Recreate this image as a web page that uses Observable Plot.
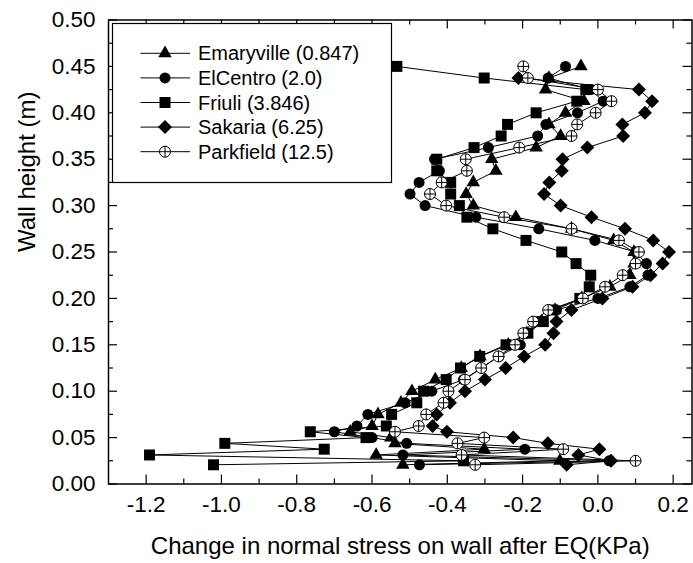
<!DOCTYPE html>
<html><head><meta charset="utf-8">
<script src="https://cdn.jsdelivr.net/npm/d3@7"></script>
<script src="https://cdn.jsdelivr.net/npm/@observablehq/plot@0.6"></script>
<style>body{margin:0;background:#fff} svg{display:block}</style>
</head><body><div id="chart"></div>
<script>
// Wall heights (m) at which stresses are given
const heights = [0.45, 0.4375, 0.425, 0.4125, 0.4, 0.3875, 0.375, 0.3625, 0.35, 0.3375,
  0.325, 0.3125, 0.3, 0.2875, 0.275, 0.2625, 0.25, 0.2375, 0.225, 0.2125,
  0.2, 0.1875, 0.175, 0.1625, 0.15, 0.1375, 0.125, 0.1125, 0.1, 0.0875,
  0.075, 0.0625, 0.0563, 0.05, 0.0438, 0.0375, 0.0313, 0.025, 0.0207];
// Change in normal stress (KPa)
const emaryville = [-0.045, -0.13, -0.139, -0.037, -0.086, -0.130, -0.099, -0.164, -0.282, -0.271,
  -0.331, -0.350, -0.331, -0.218, -0.070, 0.042, 0.096, 0.096, 0.085, 0.032,
  -0.043, -0.114, -0.149, -0.189, -0.238, -0.313, -0.363, -0.432, -0.494, -0.523,
  -0.584, -0.600, -0.658, -0.55, -0.539, -0.302, -0.589, -0.101, -0.518];
const elCentro = [-0.086, -0.132, -0.019, 0.014, -0.054, -0.138, -0.160, -0.291, -0.434, -0.421,
  -0.475, -0.499, -0.459, -0.324, -0.157, -0.008, 0.10, 0.129, 0.133, 0.085,
  0.000, -0.110, -0.160, -0.189, -0.206, -0.263, -0.309, -0.357, -0.441, -0.512,
  -0.611, -0.640, -0.700, -0.60, -0.508, -0.194, -0.518, 0.03, -0.474];
const friuli = [-0.534, -0.302, -0.032, -0.056, -0.164, -0.240, -0.257, -0.329, -0.428, -0.428,
  -0.391, -0.391, -0.368, -0.348, -0.279, -0.191, -0.096, -0.058, -0.019, -0.023,
  -0.048, -0.121, -0.145, -0.186, -0.244, -0.314, -0.365, -0.403, -0.463, -0.481,
  -0.548, -0.562, -0.764, -0.616, -0.991, -0.727, -1.191, -0.357, -1.021];
const sakaria = [null, -0.211, 0.109, 0.144, 0.125, 0.065, 0.067, -0.028, -0.094, -0.096,
  -0.129, -0.143, -0.099, -0.017, 0.072, 0.147, 0.189, 0.172, 0.140, 0.092,
  0.012, -0.070, -0.110, -0.118, -0.140, -0.196, -0.245, -0.300, -0.353, -0.393,
  -0.428, -0.439, -0.401, -0.225, -0.133, 0.004, -0.052, 0.035, -0.083];
const parkfield = [-0.198, -0.186, 0.0, 0.036, -0.006, -0.055, -0.070, -0.209, -0.351, -0.348,
  -0.415, -0.446, -0.403, -0.249, -0.070, 0.056, 0.109, 0.10, 0.066, 0.019,
  -0.04, -0.132, -0.172, -0.198, -0.22, -0.264, -0.31, -0.353, -0.397, -0.410,
  -0.456, -0.476, -0.539, -0.302, -0.373, -0.092, -0.362, 0.100, -0.326];

const seriesNames = ["Emaryville (0.847)", "ElCentro (2.0)", "Friuli (3.846)", "Sakaria (6.25)", "Parkfield (12.5)"];
const xMajorTicks = [-1.2, -1.0, -0.8, -0.6, -0.4, -0.2, 0.0, 0.2];
const xMinorTicks = [-1.1, -0.9, -0.7, -0.5, -0.3, -0.1, 0.1];
const yMajorTicks = [0, 0.05, 0.1, 0.15, 0.2, 0.25, 0.3, 0.35, 0.4, 0.45, 0.5];
const yMinorTicks = [0.025, 0.075, 0.125, 0.175, 0.225, 0.275, 0.325, 0.375, 0.425, 0.475];
const xTitle = "Change in normal stress on wall after EQ(KPa)";
const yTitle = "Wall height (m)";

const W = 693, H = 563;
const mL = 108, mR = 1.5, mT = 19.5, mB = 79.5;
const innerW = W - mL - mR, innerH = H - mT - mB;
const FONT = "'Liberation Sans', Arial, Helvetica, sans-serif";

const circlePlus = {draw(ctx, size) {
  const r = Math.sqrt(size / Math.PI);
  ctx.moveTo(r, 0); ctx.arc(0, 0, r, 0, 2 * Math.PI);
  ctx.moveTo(-r, 0); ctx.lineTo(r, 0);
  ctx.moveTo(0, -r); ctx.lineTo(0, r);
}};
const seriesValues = [emaryville, elCentro, friuli, sakaria, parkfield];
const styles = [
  {symbol: "triangle", d3sym: d3.symbolTriangle, r: 5, fill: "black", stroke: "none"},
  {symbol: "circle", d3sym: d3.symbolCircle, r: 5.5, fill: "black", stroke: "none"},
  {symbol: "square", d3sym: d3.symbolSquare, r: 6.2, fill: "black", stroke: "none"},
  {symbol: "diamond2", d3sym: d3.symbolDiamond2, r: 6.3, fill: "black", stroke: "none"},
  {symbol: circlePlus, d3sym: circlePlus, r: 5.5, fill: "white", stroke: "black"}
];

const marks = [];
seriesValues.forEach((vals, i) => {
  const data = heights.map((h, j) => ({x: vals[j], y: h})).filter(d => d.x != null);
  const s = styles[i];
  marks.push(Plot.line(data, {x: "x", y: "y", stroke: "black", strokeWidth: 1}));
  marks.push(Plot.dot(data, {x: "x", y: "y", symbol: s.symbol, r: s.r, fill: s.fill, stroke: s.stroke, strokeWidth: 1}));
});
marks.push(
  Plot.tickX(xMajorTicks, {x: d => d, stroke: "black", strokeWidth: 1.2, insetTop: innerH - 9}),
  Plot.tickX(xMajorTicks, {x: d => d, stroke: "black", strokeWidth: 1.2, insetBottom: innerH - 9}),
  Plot.tickX(xMinorTicks, {x: d => d, stroke: "black", strokeWidth: 1.2, insetTop: innerH - 5}),
  Plot.tickX(xMinorTicks, {x: d => d, stroke: "black", strokeWidth: 1.2, insetBottom: innerH - 5}),
  Plot.tickY(yMajorTicks, {y: d => d, stroke: "black", strokeWidth: 1.2, insetRight: innerW - 9}),
  Plot.tickY(yMajorTicks, {y: d => d, stroke: "black", strokeWidth: 1.2, insetLeft: innerW - 9}),
  Plot.tickY(yMinorTicks, {y: d => d, stroke: "black", strokeWidth: 1.2, insetRight: innerW - 5}),
  Plot.tickY(yMinorTicks, {y: d => d, stroke: "black", strokeWidth: 1.2, insetLeft: innerW - 5}),
  Plot.frame({stroke: "black", strokeWidth: 1.5}),
  Plot.axisX(xMajorTicks, {tickSize: 0, tickPadding: 12, tickFormat: d => d.toFixed(1), fontSize: 22.5, label: null}),
  Plot.axisY(yMajorTicks, {tickSize: 0, tickPadding: 13, tickFormat: d => d.toFixed(2), fontSize: 22.5, label: null}),
  Plot.text([yTitle], {text: d => d, frameAnchor: "left", dx: -81, rotate: -90, fontSize: 24}),
  Plot.text([xTitle], {text: d => d, frameAnchor: "bottom", dy: 62, lineAnchor: "middle", fontSize: 24})
);

const plot = Plot.plot({
  width: W, height: H,
  marginLeft: mL, marginRight: mR, marginTop: mT, marginBottom: mB,
  x: {domain: [-1.3, 0.25]},
  y: {domain: [0, 0.5]},
  style: {fontFamily: FONT, background: "white", color: "black"},
  marks
});

// Legend box inside the plot area
const svg = d3.select(plot);
const lg = svg.append("g").attr("text-anchor", "start");
lg.append("rect").attr("x", 112.5).attr("y", 23.5).attr("width", 279).attr("height", 159)
  .attr("fill", "white").attr("stroke", "black").attr("stroke-width", 1.2);
seriesNames.forEach((name, i) => {
  const cy = 53.3 + i * 24.6;
  const s = styles[i];
  lg.append("line").attr("x1", 140.5).attr("x2", 190).attr("y1", cy).attr("y2", cy)
    .attr("stroke", "black").attr("stroke-width", 1);
  lg.append("path").attr("transform", `translate(165,${cy})`)
    .attr("d", d3.symbol(s.d3sym, Math.PI * s.r * s.r)())
    .attr("fill", s.fill).attr("stroke", s.stroke).attr("stroke-width", 1);
  lg.append("text").attr("x", 198).attr("y", cy).attr("dy", "0.35em").attr("text-anchor", "start")
    .attr("font-size", 20).attr("font-family", FONT).attr("fill", "black").text(name);
});

document.getElementById("chart").appendChild(plot);
</script>
</body></html>
